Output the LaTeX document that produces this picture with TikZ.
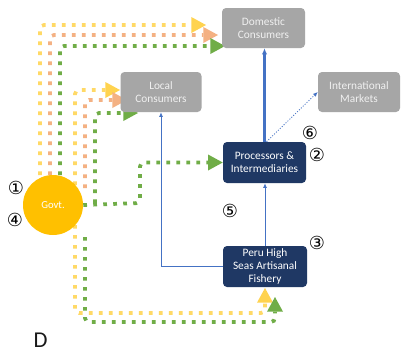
\documentclass[tikz,border=0pt]{standalone}
\usepackage{fontspec}
\setmainfont{Carlito}
\newfontfamily\dejavu{DejaVu Sans}
\usetikzlibrary{arrows.meta}
\definecolor{ylw}{HTML}{FFD966}
\definecolor{ylwtip}{HTML}{FFD34F}
\definecolor{org}{HTML}{F4B183}
\definecolor{grn}{HTML}{70AD47}
\definecolor{gold}{HTML}{FFC000}
\definecolor{boxgray}{HTML}{A6A6A6}
\definecolor{navy}{HTML}{1F3864}
\definecolor{bline}{HTML}{4472C4}
\pgfdeclarelayer{bg}
\pgfsetlayers{bg,main}
\begin{document}
\begin{tikzpicture}[x=0.75pt,y=-0.75pt,
  graybox/.style={fill=boxgray, rounded corners=3pt, text=white!94!black, align=center,
    inner sep=1pt, font=\fontsize{8.5}{9.8}\selectfont},
  navybox/.style={fill=navy, rounded corners=3pt, text=white, align=center,
    inner sep=1pt, font=\fontsize{8.5}{9.8}\selectfont},
  gov/.style={circle, fill=gold, text=white, minimum size=45pt, inner sep=0pt,
    font=\fontsize{8}{9}\selectfont},
  num/.style={font=\dejavu\fontsize{13.5}{13.5}\selectfont, inner sep=0pt},
  flow/.style={line width=2.8pt, dash pattern=on 2.8pt off 4.7pt, rounded corners=3pt},
  tri/.style={-{Triangle[length=11pt,width=12pt,line width=0pt,color=#1]}},
  yflow/.style={flow, draw=ylw, tri=ylwtip},
  oflow/.style={flow, draw=org, tri=org},
  gflow/.style={flow, draw=grn, tri=grn},
  bthick/.style={draw=bline, line width=1.7pt, -{Latex[length=4.5pt,width=4pt]}},
  bthin/.style={draw=bline, line width=0.6pt, -{Latex[length=3.5pt,width=3pt]}},
  bdot/.style={draw=bline, line width=0.6pt, dash pattern=on 0.8pt off 1.2pt, -{Latex[length=3.5pt,width=3pt]}}
]
\useasboundingbox (0,0) rectangle (401,355);

% boxes
\node[graybox, minimum width=62.25pt, minimum height=30pt] (dom) at (263.5,28) {Domestic\\Consumers};
\node[graybox, minimum width=61.5pt, minimum height=30pt] (intl) at (359,92) {International\\Markets};
\node[graybox, minimum width=60.75pt, minimum height=30pt] (local) at (161,92) {Local\\Consumers};
\node[navybox, minimum width=62.25pt, minimum height=30.75pt] (proc) at (264.5,162.5) {Processors \&\\Intermediaries};
\node[navybox, minimum width=63pt, minimum height=30.75pt] (peru) at (265,266.5) {Peru High\\Seas Artisanal\\Fishery};
\node[gov] (govt) at (53,205) {Govt.};

% free ends of the coloured flows
\coordinate (ydom) at (206,25);
\coordinate (odom) at (218,35);
\coordinate (gdom) at (225,46);
\coordinate (yloc) at (120,90);
\coordinate (oloc) at (127,100);
\coordinate (gloc) at (138,113);
\coordinate (yfish) at (265,288);
\coordinate (gfish) at (275,297);

\begin{pgfonlayer}{bg}
\fill[white] (0,0) rectangle (401,355);
\draw[yflow] (40,205) -- (40,25) -- (ydom);
\draw[oflow] (50,205) -- (50,35) -- (odom);
\draw[gflow] (60,205) -- (60,46) -- (gdom);
\draw[yflow] (75,205) -- (75,90) -- (yloc);
\draw[oflow] (85,188) -- (85,100) -- (oloc);
\draw[gflow] (95,203) -- (95,113) -- (gloc);
\draw[gflow] (govt.east) -- (140,203) -- (140,162.5) -- (proc.west);
\draw[yflow] (75,205) -- (75,313) -- (265,313) -- (yfish);
\draw[gflow] (85,237) -- (85,322) -- (275,322) -- (gfish);
\end{pgfonlayer}

% blue connectors
\draw[bthick] (proc.north) -- (proc.north |- dom.south);
\draw[bdot] ([xshift=1.5pt]proc.north) -- (intl.west);
\draw[bthin] (peru.north) -- (peru.north |- proc.south);
\draw[bthin] (peru.west) -| (local.south);

% numbers
\node[num] (n1) at (16,188) {①};
\node[num] (n4) at (15,220) {④};
\node[num] (n6) at (310,133) {⑥};
\node[num] (n2) at (317,155) {②};
\node[num] (n5) at (230,211) {⑤};
\node[num] (n3) at (317,243) {③};

\node[font=\fontsize{17}{17}\selectfont, text=black!90, inner sep=0pt] (lbl) at (40.5,340.5) {D};
\end{tikzpicture}
\end{document}
